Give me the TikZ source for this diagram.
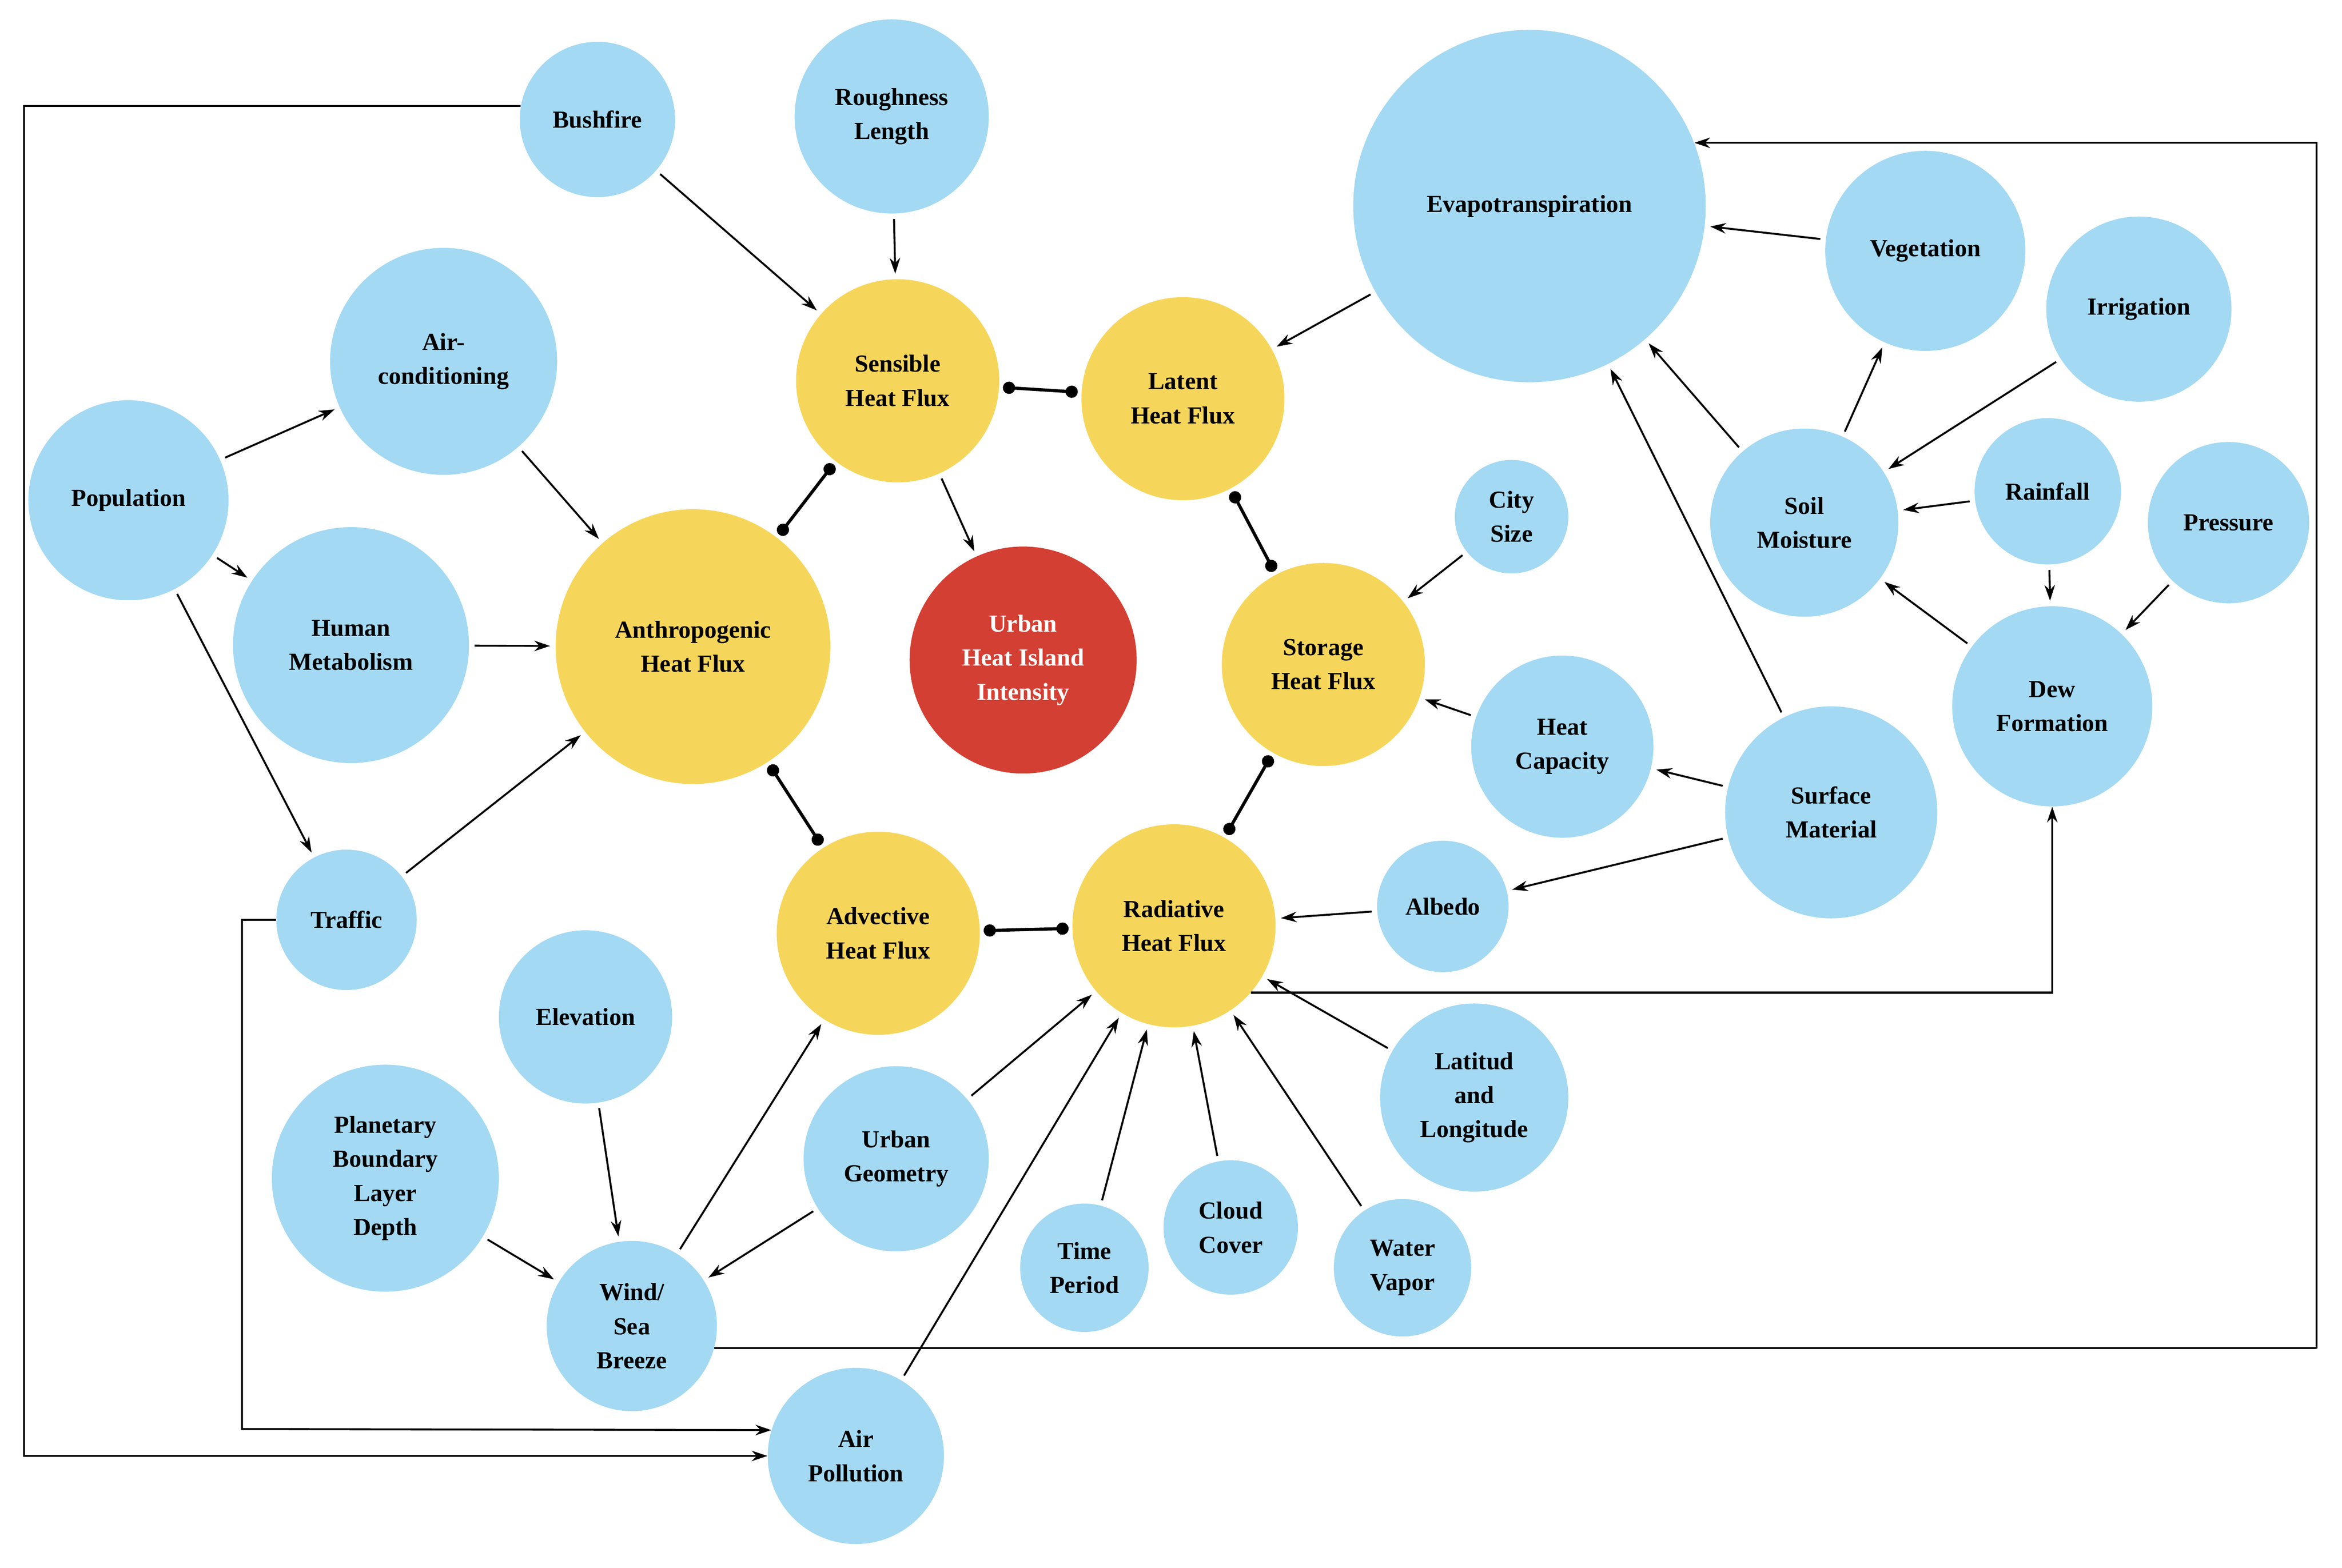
\documentclass[tikz,border=0pt]{standalone}
\usepackage{fontspec}
\setmainfont{Liberation Serif}
\usetikzlibrary{arrows.meta}
\definecolor{bl}{HTML}{A3D9F3}
\definecolor{ye}{HTML}{F6D65A}
\definecolor{rd}{HTML}{D43F33}
\begin{document}
\begin{tikzpicture}[x=0.03cm,y=-0.03cm,
  b/.style={circle,fill=bl,minimum size=#1*0.06cm,inner sep=0pt,align=center,font=\fontsize{14}{19.5}\selectfont\bfseries},
  yb/.style={b=#1,fill=ye},
  arr/.style={-{Stealth[length=9pt,width=6pt]},line width=1.1pt,shorten >=3pt,shorten <=3pt},
  ln/.style={line width=1.1pt,-{Stealth[length=9pt,width=6pt]}},
  dd/.style={{Circle[length=7pt]}-{Circle[length=7pt]},line width=1.8pt,shorten >=2pt,shorten <=2pt}]
\path[use as bounding box,fill=white] (0,0) rectangle (1568,1050);
\node[b=52] (bush) at (400,80) {Bushfire};
\node[b=65] (rough) at (597,78) {Roughness\\Length};
\node[yb=68] (sens) at (601,255) {Sensible\\Heat Flux};
\node[yb=68] (lat) at (792,267) {Latent\\Heat Flux};
\node[b=118] (evap) at (1024,138) {Evapotranspiration};
\node[b=67] (veg) at (1289,168) {Vegetation};
\node[b=62] (irr) at (1432,207) {Irrigation};
\node[b=76] (ac) at (297,242) {Air-\\conditioning};
\node[b=67] (pop) at (86,335) {Population};
\node[b=79] (hum) at (235,432) {Human\\Metabolism};
\node[yb=92] (anth) at (464,433) {Anthropogenic\\Heat Flux};
\node[b=76,fill=rd,text=white] (uhi) at (685,442) {Urban\\Heat Island\\Intensity};
\node[yb=68] (stor) at (886,445) {Storage\\Heat Flux};
\node[b=38] (city) at (1012,346) {City\\Size};
\node[b=63] (soil) at (1208,350) {Soil\\Moisture};
\node[b=49] (rain) at (1371,329) {Rainfall};
\node[b=54] (pres) at (1492,350) {Pressure};
\node[b=67] (dew) at (1374,473) {Dew\\Formation};
\node[b=61] (heat) at (1046,500) {Heat\\Capacity};
\node[b=71] (surf) at (1226,544) {Surface\\Material};
\node[b=44] (alb) at (966,607) {Albedo};
\node[b=47] (traf) at (232,616) {Traffic};
\node[yb=68] (adv) at (588,625) {Advective\\Heat Flux};
\node[yb=68] (rad) at (786,620) {Radiative\\Heat Flux};
\node[b=58] (elev) at (392,681) {Elevation};
\node[b=76] (pbl) at (258,789) {Planetary\\Boundary\\Layer\\Depth};
\node[b=62] (geo) at (600,776) {Urban\\Geometry};
\node[b=63] (latlon) at (987,735) {Latitud\\and\\Longitude};
\node[b=57] (wind) at (423,888) {Wind/\\Sea\\Breeze};
\node[b=43] (time) at (726,849) {Time\\Period};
\node[b=45] (cloud) at (824,822) {Cloud\\Cover};
\node[b=46] (water) at (939,849) {Water\\Vapor};
\node[b=59] (air) at (573,975) {Air\\Pollution};
% arrows
\foreach \a/\b in {bush/sens,rough/sens,evap/lat,veg/evap,irr/soil,soil/evap,soil/veg,rain/soil,rain/dew,pres/dew,dew/soil,surf/evap,surf/heat,surf/alb,city/stor,heat/stor,alb/rad,pop/ac,pop/hum,pop/traf,ac/anth,hum/anth,traf/anth,sens/uhi,elev/wind,pbl/wind,geo/wind,geo/rad,wind/adv,air/rad,time/rad,cloud/rad,water/rad,latlon/rad}
  \draw[arr] (\a) -- (\b);
% dot links
\foreach \a/\b in {sens/lat,lat/stor,stor/rad,rad/adv,adv/anth,anth/sens}
  \draw[dd] (\a) -- (\b);
% orthogonal connectors
\coordinate (c1) at (1551,903);
\coordinate (c2) at (16,975);
\coordinate (c3) at (162,957);
\draw[ln] (rad.-41) -| (dew.south);
\draw[ln] (wind.-15) -| (c1) |- (evap.21.5);
\draw[ln] (bush.170) -| (c2) -- (air.west);
\draw[ln] (traf.west) -| (c3) -- (air.163);
\end{tikzpicture}
\end{document}
